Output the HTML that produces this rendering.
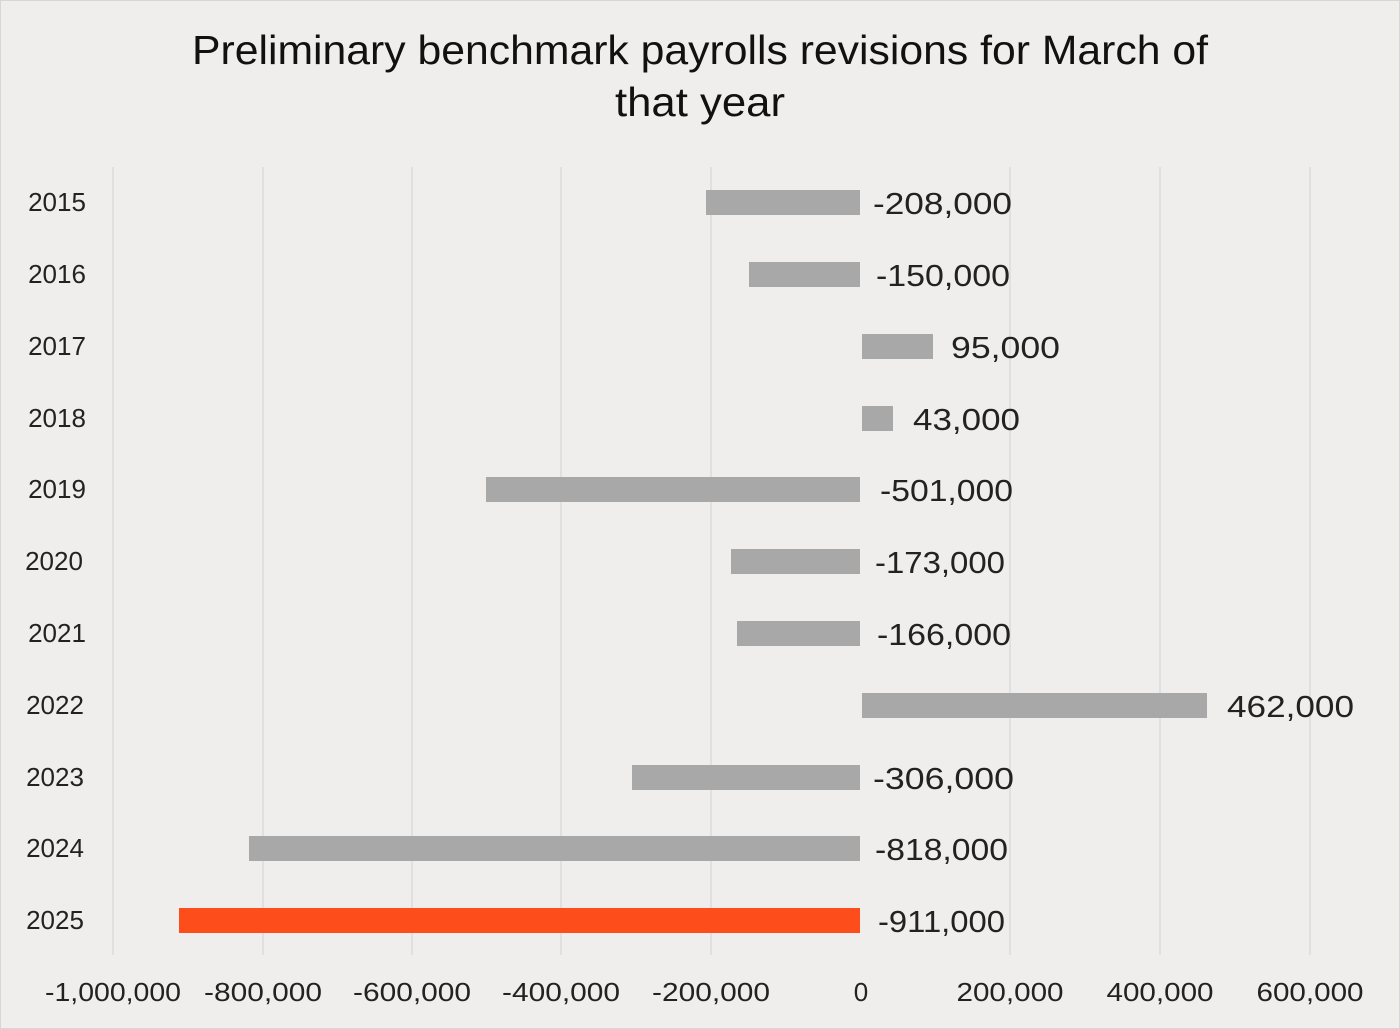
<!DOCTYPE html>
<html><head><meta charset="utf-8"><style>
body{margin:0;background:#efeeec;}
svg{display:block;font-family:"Liberation Sans",sans-serif;}
</style></head><body>
<svg width="1400" height="1029" viewBox="0 0 1400 1029" xmlns="http://www.w3.org/2000/svg">
<rect x="0" y="0" width="1400" height="1029" fill="#efeeec"/>
<rect x="0.5" y="0.5" width="1399" height="1028" fill="none" stroke="#d6d6d6"/>
<g fill="#111" font-size="41" text-anchor="middle">
<text x="700" y="64" textLength="1016" lengthAdjust="spacingAndGlyphs">Preliminary benchmark payrolls revisions for March of</text>
<text x="700" y="116" textLength="170" lengthAdjust="spacingAndGlyphs">that year</text>
</g>
<g stroke="#dcdcdc" stroke-width="1.5">
<line x1="113" y1="167" x2="113" y2="955"/>
<line x1="263" y1="167" x2="263" y2="955"/>
<line x1="412" y1="167" x2="412" y2="955"/>
<line x1="561" y1="167" x2="561" y2="955"/>
<line x1="711" y1="167" x2="711" y2="955"/>
<line x1="1010" y1="167" x2="1010" y2="955"/>
<line x1="1160" y1="167" x2="1160" y2="955"/>
<line x1="1310" y1="167" x2="1310" y2="955"/>
</g>
<g fill="#a8a8a8">
<rect x="706" y="190" width="154" height="25"/>
<rect x="749" y="262" width="111" height="25"/>
<rect x="862" y="334" width="71" height="25"/>
<rect x="862" y="406" width="31" height="25"/>
<rect x="486" y="477" width="374" height="25"/>
<rect x="731" y="549" width="129" height="25"/>
<rect x="737" y="621" width="123" height="25"/>
<rect x="862" y="693" width="345" height="25"/>
<rect x="632" y="765" width="228" height="25"/>
<rect x="249" y="836" width="611" height="25"/>
</g>
<rect x="179" y="908" width="681" height="25" fill="#fc4d1a"/>
<g fill="#222" font-size="31" lengthAdjust="spacingAndGlyphs">
<text x="873" y="214" textLength="139" lengthAdjust="spacingAndGlyphs">-208,000</text>
<text x="876" y="286" textLength="134" lengthAdjust="spacingAndGlyphs">-150,000</text>
<text x="951" y="358" textLength="109" lengthAdjust="spacingAndGlyphs">95,000</text>
<text x="913" y="430" textLength="107" lengthAdjust="spacingAndGlyphs">43,000</text>
<text x="880" y="501" textLength="133" lengthAdjust="spacingAndGlyphs">-501,000</text>
<text x="875" y="573" textLength="130" lengthAdjust="spacingAndGlyphs">-173,000</text>
<text x="877" y="645" textLength="134" lengthAdjust="spacingAndGlyphs">-166,000</text>
<text x="1227" y="717" textLength="127" lengthAdjust="spacingAndGlyphs">462,000</text>
<text x="873" y="789" textLength="141" lengthAdjust="spacingAndGlyphs">-306,000</text>
<text x="875" y="860" textLength="133" lengthAdjust="spacingAndGlyphs">-818,000</text>
<text x="878" y="932" textLength="127" lengthAdjust="spacingAndGlyphs">-911,000</text>
</g>
<g fill="#222" font-size="26" text-anchor="middle">
<text x="57" y="211">2015</text>
<text x="57" y="283">2016</text>
<text x="57" y="355">2017</text>
<text x="57" y="427">2018</text>
<text x="57" y="498">2019</text>
<text x="54" y="570">2020</text>
<text x="57" y="642">2021</text>
<text x="55" y="714">2022</text>
<text x="55" y="786">2023</text>
<text x="55" y="857">2024</text>
<text x="55" y="929">2025</text>
</g>
<g fill="#222" font-size="26" text-anchor="middle">
<text x="113" y="1001" textLength="136" lengthAdjust="spacingAndGlyphs">-1,000,000</text>
<text x="263" y="1001" textLength="118" lengthAdjust="spacingAndGlyphs">-800,000</text>
<text x="412" y="1001" textLength="118" lengthAdjust="spacingAndGlyphs">-600,000</text>
<text x="561" y="1001" textLength="118" lengthAdjust="spacingAndGlyphs">-400,000</text>
<text x="711" y="1001" textLength="118" lengthAdjust="spacingAndGlyphs">-200,000</text>
<text x="861" y="1001">0</text>
<text x="1010" y="1001" textLength="107" lengthAdjust="spacingAndGlyphs">200,000</text>
<text x="1160" y="1001" textLength="107" lengthAdjust="spacingAndGlyphs">400,000</text>
<text x="1310" y="1001" textLength="107" lengthAdjust="spacingAndGlyphs">600,000</text>
</g>
</svg>
</body></html>
